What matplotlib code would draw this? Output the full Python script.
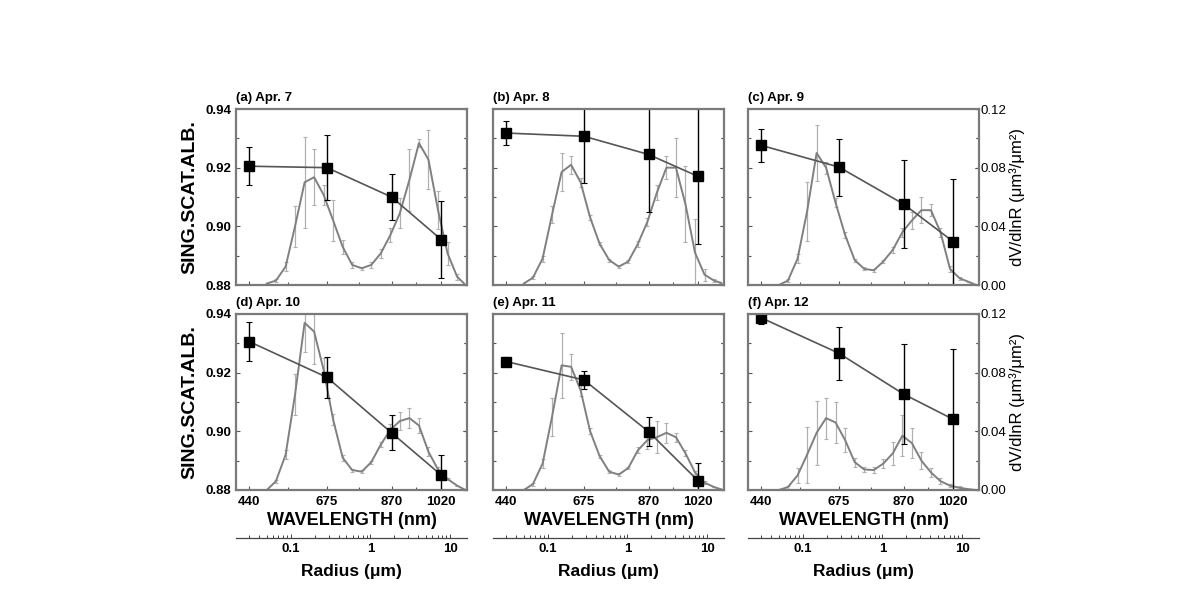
import matplotlib
matplotlib.use('Agg')
import matplotlib.pyplot as plt
from matplotlib.ticker import FixedLocator, LogLocator, NullFormatter
import numpy as np

plt.rcParams['font.family'] = ['Liberation Sans', 'DejaVu Sans']

# single scattering albedo at four wavelengths
wl = [440, 675, 870, 1020]
ssa = {
    'a': [0.9205, 0.9200, 0.9100, 0.8955],
    'b': [0.9318, 0.9307, 0.9245, 0.9170],
    'c': [0.9276, 0.9202, 0.9076, 0.8948],
    'd': [0.9306, 0.9184, 0.8995, 0.8851],
    'e': [0.9238, 0.9175, 0.8999, 0.8831],
    'f': [0.9387, 0.9266, 0.9127, 0.9041],
}
ssa_err = {
    'a': [0.0065, 0.011, 0.008, 0.013],
    'b': [0.004, 0.016, 0.0195, 0.023],
    'c': [0.0057, 0.0097, 0.015, 0.0214],
    'd': [0.0066, 0.007, 0.006, 0.007],
    'e': [0.0015, 0.003, 0.005, 0.006],
    'f': [0.002, 0.009, 0.017, 0.024],
}

# volume size distribution (AERONET radius bins)
radius = [0.050, 0.065, 0.086, 0.113, 0.149, 0.196, 0.258, 0.340, 0.448, 0.590, 0.777,
          1.024, 1.349, 1.777, 2.341, 3.084, 4.063, 5.353, 7.052, 9.291, 12.24, 15.0]
dv = {
    'a': [0.001, 0.003, 0.0125, 0.040, 0.070, 0.0735, 0.0615, 0.044, 0.026, 0.0137, 0.0114,
          0.0137, 0.0216, 0.034, 0.049, 0.0717, 0.0968, 0.0854, 0.051, 0.0216, 0.0057, 0.001],
    'b': [0.001, 0.005, 0.018, 0.048, 0.077, 0.082, 0.070, 0.046, 0.028, 0.017, 0.0125,
          0.016, 0.028, 0.043, 0.063, 0.080, 0.080, 0.055, 0.022, 0.007, 0.003, 0.0015],
    'c': [0.0, 0.003, 0.018, 0.050, 0.090, 0.080, 0.056, 0.034, 0.017, 0.011, 0.010,
          0.016, 0.024, 0.036, 0.044, 0.051, 0.051, 0.036, 0.011, 0.0046, 0.002, 0.0],
    'd': [0.0, 0.006, 0.024, 0.065, 0.114, 0.108, 0.082, 0.048, 0.022, 0.0136, 0.0125,
          0.019, 0.031, 0.041, 0.047, 0.049, 0.044, 0.026, 0.014, 0.0075, 0.003, 0.0005],
    'e': [0.0, 0.004, 0.018, 0.050, 0.085, 0.084, 0.068, 0.040, 0.023, 0.0125, 0.0105,
          0.015, 0.027, 0.034, 0.036, 0.039, 0.036, 0.025, 0.012, 0.005, 0.002, 0.0005],
    'f': [0.0, 0.002, 0.010, 0.024, 0.039, 0.049, 0.046, 0.034, 0.019, 0.014, 0.0136,
          0.018, 0.025, 0.037, 0.032, 0.020, 0.012, 0.006, 0.003, 0.0015, 0.0005, 0.0],
}
dv_err = {
    'a': [0, 0.001, 0.003, 0.014, 0.031, 0.019, 0.007, 0.014, 0.005, 0.002, 0.001,
          0.002, 0.003, 0.005, 0.010, 0.021, 0.003, 0.020, 0.013, 0.008, 0.002, 0],
    'b': [0, 0.001, 0.002, 0.006, 0.013, 0.006, 0.003, 0.002, 0.001, 0.001, 0.001,
          0.001, 0.002, 0.003, 0.005, 0.008, 0.020, 0.026, 0.023, 0.004, 0.001, 0],
    'c': [0, 0.001, 0.003, 0.020, 0.019, 0.004, 0.003, 0.002, 0.001, 0.001, 0.001,
          0.001, 0.002, 0.003, 0.006, 0.009, 0.004, 0.003, 0.002, 0.001, 0, 0],
    'd': [0, 0.001, 0.003, 0.014, 0.020, 0.022, 0.008, 0.004, 0.002, 0.001, 0.001,
          0.001, 0.002, 0.004, 0.006, 0.007, 0.005, 0.003, 0.002, 0.001, 0, 0],
    'e': [0, 0.001, 0.003, 0.013, 0.022, 0.009, 0.004, 0.002, 0.001, 0.001, 0.001,
          0.001, 0.002, 0.006, 0.011, 0.007, 0.003, 0.002, 0.001, 0.001, 0, 0],
    'f': [0, 0.001, 0.005, 0.019, 0.022, 0.014, 0.014, 0.008, 0.003, 0.002, 0.002,
          0.003, 0.008, 0.014, 0.010, 0.006, 0.003, 0.002, 0.001, 0.001, 0, 0],
}
titles = {'a': '(a) Apr. 7', 'b': '(b) Apr. 8', 'c': '(c) Apr. 9',
          'd': '(d) Apr. 10', 'e': '(e) Apr. 11', 'f': '(f) Apr. 12'}

W, H = 1190, 607
fig = plt.figure(figsize=(W / 100, H / 100), dpi=100)

lefts = [236, 493, 748]
widths = 231
tops = [109, 314]
height = 176
frame_col = '#7a7a7a'

keys = [['a', 'b', 'c'], ['d', 'e', 'f']]
for r in range(2):
    for c in range(3):
        k = keys[r][c]
        rect = [lefts[c] / W, 1 - (tops[r] + height) / H, widths / W, height / H]
        axd = fig.add_axes(rect)
        ax = fig.add_axes(rect)
        ax.patch.set_visible(False)

        # size distribution
        axd.errorbar(radius, dv[k], yerr=dv_err[k], color='#808080', lw=1.4,
                     ecolor='#b0b0b0', elinewidth=0.9, capsize=1.5, capthick=0.8, zorder=2)
        axd.set_xscale('log')
        axd.set_xlim(0.0205, 16.3)
        axd.set_ylim(0, 0.12)
        axd.yaxis.tick_right()
        axd.set_yticks([0, 0.04, 0.08, 0.12])
        axd.yaxis.set_minor_locator(FixedLocator([0.02, 0.06, 0.10]))
        axd.tick_params(axis='y', which='both', direction='in', length=3, width=0.8,
                        color='#555555', labelsize=9.5, pad=1)
        axd.tick_params(axis='y', which='minor', length=2)
        if c != 2:
            axd.tick_params(axis='y', which='both', labelright=False)
        for s in ['top', 'left', 'right']:
            axd.spines[s].set_visible(False)
        if r == 1:
            axd.spines['bottom'].set_position(('outward', 34.5))
            axd.spines['bottom'].set_color('#444444')
            axd.spines['bottom'].set_linewidth(0.9)
            axd.set_xticks([0.1, 1, 10])
            axd.set_xticklabels(['0.1', '1', '10'], fontweight='bold', fontsize=9.5)
            axd.xaxis.set_minor_locator(LogLocator(base=10, subs=np.arange(2, 10)))
            axd.xaxis.set_minor_formatter(NullFormatter())
            axd.tick_params(axis='x', which='both', direction='in', length=3, width=0.7,
                            color='#444444', pad=4)
            axd.tick_params(axis='x', which='minor', length=2)
            axd.set_xlabel('Radius (\u03bcm)', fontsize=12.5, fontweight='bold', labelpad=6)
        else:
            axd.spines['bottom'].set_visible(False)
            axd.set_xticks([])
            axd.xaxis.set_minor_locator(FixedLocator([]))

        # single scattering albedo
        ax.set_zorder(axd.get_zorder() + 1)
        ax.errorbar(wl, ssa[k], yerr=ssa_err[k], color='#555555', lw=1.2,
                    marker='s', ms=6.5, mfc='black', mec='black',
                    ecolor='black', elinewidth=1.0, capsize=2, capthick=0.8)
        ax.set_xlim(400, 1098)
        ax.set_ylim(0.88, 0.94)
        ax.set_xticks(wl)
        ax.xaxis.set_minor_locator(FixedLocator([557.5, 772.5, 945]))
        ax.set_yticks([0.88, 0.90, 0.92, 0.94])
        ax.yaxis.set_minor_locator(FixedLocator([0.89, 0.91, 0.93]))
        ax.tick_params(axis='both', which='both', direction='in', width=0.8,
                       color='#555555', length=3, labelsize=9.5)
        ax.tick_params(axis='both', which='minor', length=2)
        ax.tick_params(axis='y', right=True, which='both')
        for s in ax.spines.values():
            s.set_color(frame_col)
            s.set_linewidth(1.6)
        if c == 0:
            ax.set_yticklabels(['0.88', '0.90', '0.92', '0.94'], fontweight='bold')
        else:
            ax.tick_params(axis='y', labelleft=False)
        if r == 1:
            ax.set_xticklabels(['440', '675', '870', '1020'], fontweight='bold')
            ax.tick_params(axis='x', pad=4)
            ax.set_xlabel('WAVELENGTH (nm)', fontsize=13, fontweight='bold', labelpad=3)
        else:
            ax.tick_params(axis='x', labelbottom=False)
        ax.text(0.0, 1.03, titles[k], transform=ax.transAxes, fontsize=9.5,
                fontweight='bold', ha='left', va='bottom')

# shared axis labels
for r in range(2):
    yc = 1 - (tops[r] + height / 2) / H
    fig.text(190 / W, yc, 'SING.SCAT.ALB.', rotation=90, fontsize=14,
             fontweight='bold', ha='center', va='center')
    fig.text(1017 / W, yc, 'dV/dlnR (\u03bcm\u00b3/\u03bcm\u00b2)', rotation=90,
             fontsize=12, ha='center', va='center')

fig.savefig('out.png', dpi=100)
